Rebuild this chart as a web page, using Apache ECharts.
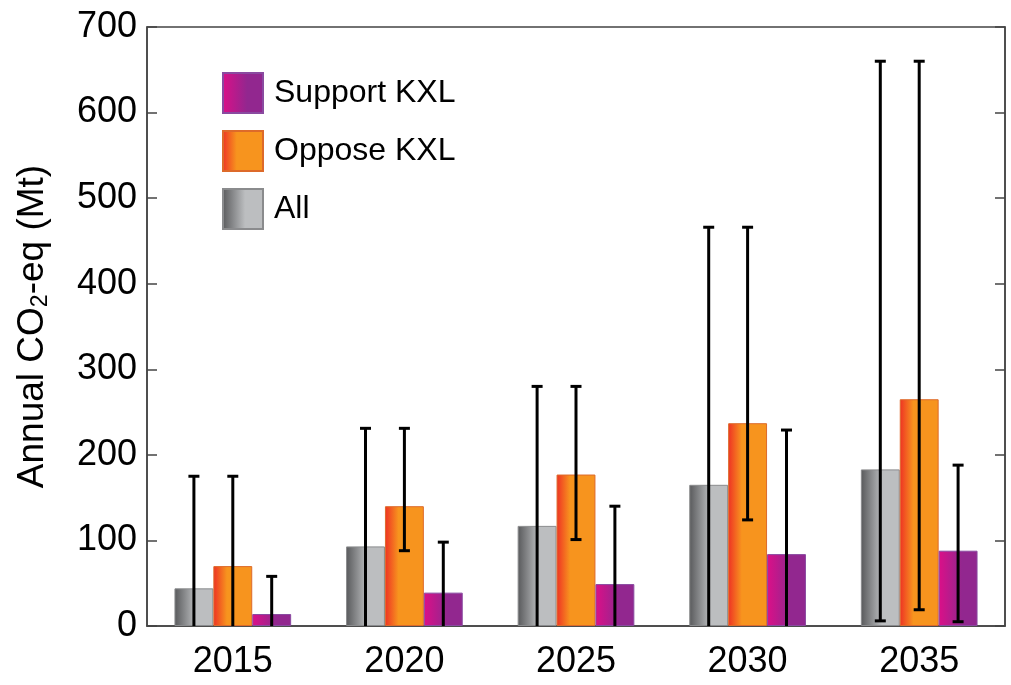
<!DOCTYPE html>
<html>
<head>
<meta charset="utf-8">
<script src="https://cdn.jsdelivr.net/npm/echarts@6/dist/echarts.min.js"></script>
<style>
  html, body { margin: 0; padding: 0; background: #fff; }
  #chart { width: 1011px; height: 685px; }
</style>
</head>
<body>
<div id="chart"></div>
<script>
var years = ['2015', '2020', '2025', '2030', '2035'];
var allVals = [44, 93, 117, 165, 183];
var opposeVals = [70, 140, 177, 237, 265];
var supportVals = [14, 39, 49, 84, 88];
// error bar ranges (low, high)
var allLow = [0, 0, 0, 0, 6];
var allHigh = [175, 231, 280, 466, 660];
var opposeLow = [0, 88, 101, 124, 19];
var opposeHigh = [175, 231, 280, 466, 660];
var supportLow = [0, 0, 0, 0, 5];
var supportHigh = [58, 98, 140, 229, 188];
var yTicks = { min: 0, max: 700, interval: 100 };

var FONT = '"Liberation Sans", Arial, Helvetica, sans-serif';
var GAP = 0.32;

function grad(stops) {
  return new echarts.graphic.LinearGradient(0, 0, 1, 0, stops);
}
var grayFill = grad([{ offset: 0, color: '#58595b' }, { offset: 0.55, color: '#bcbec0' }, { offset: 1, color: '#bcbec0' }]);
var orangeFill = grad([{ offset: 0, color: '#ee3124' }, { offset: 0.35, color: '#f7941e' }, { offset: 1, color: '#f7941e' }]);
var purpleFill = grad([{ offset: 0, color: '#dc0f88' }, { offset: 0.6, color: '#92278f' }, { offset: 1, color: '#92278f' }]);

function errData(low, high) {
  return years.map(function (y, i) { return [i, low[i], high[i]]; });
}

function errSeries(name, low, high, slot) {
  return {
    name: name,
    type: 'custom',
    z: 5,
    data: errData(low, high),
    encode: { x: 0, y: [1, 2] },
    renderItem: function (params, api) {
      var i = api.value(0);
      var lo = api.coord([i, api.value(1)]);
      var hi = api.coord([i, api.value(2)]);
      var band = api.size([1, 0])[0];
      var barW = band * (1 - GAP) / 3;
      var x = lo[0] + slot * barW;
      var cap = 5.5;
      var style = { stroke: '#000', lineWidth: 3 };
      var kids = [
        { type: 'line', shape: { x1: x, y1: lo[1], x2: x, y2: hi[1] }, style: style },
        { type: 'line', shape: { x1: x - cap, y1: hi[1], x2: x + cap, y2: hi[1] }, style: style }
      ];
      // no lower cap where the range runs down to the axis
      if (api.value(1) > 0) {
        kids.push({ type: 'line', shape: { x1: x - cap, y1: lo[1], x2: x + cap, y2: lo[1] }, style: style });
      }
      return { type: 'group', children: kids };
    }
  };
}

var chart = echarts.init(document.getElementById('chart'));
var option = {
  animation: false,
  textStyle: { fontFamily: FONT },
  grid: {
    left: 147, right: 6, top: 27, bottom: 59,
    show: true, borderColor: '#444', borderWidth: 1.5, backgroundColor: '#fff'
  },
  legend: {
    orient: 'vertical',
    left: 222, top: 72,
    padding: 0,
    icon: 'rect',
    itemWidth: 40, itemHeight: 40, itemGap: 16,
    data: ['Support KXL', 'Oppose KXL', 'All'],
    textStyle: { fontSize: 32, color: '#000', fontFamily: FONT, padding: [0, 0, 0, 6] },
    selectedMode: false
  },
  xAxis: {
    type: 'category',
    data: years,
    axisTick: { show: false },
    axisLine: { lineStyle: { color: '#444', width: 1.5 } },
    axisLabel: { fontSize: 36, color: '#000', margin: 18, fontFamily: FONT }
  },
  yAxis: [{
    type: 'value',
    min: yTicks.min, max: yTicks.max, interval: yTicks.interval,
    name: 'Annual CO{sub|2}-eq (Mt)',
    nameLocation: 'middle',
    nameGap: 95,
    nameTextStyle: {
      fontSize: 37, color: '#000', fontFamily: FONT,
      rich: { sub: { fontSize: 23, color: '#000', verticalAlign: 'bottom', padding: [15, 0, 0, 0], fontFamily: FONT } }
    },
    splitLine: { show: false },
    axisLine: { show: true, lineStyle: { color: '#444', width: 1.5 } },
    axisTick: { show: true, inside: true, length: 10, lineStyle: { color: '#444', width: 1.5 } },
    axisLabel: { fontSize: 36, color: '#000', margin: 10, fontFamily: FONT }
  }, {
    type: 'value',
    position: 'right',
    min: yTicks.min, max: yTicks.max, interval: yTicks.interval,
    splitLine: { show: false },
    axisLine: { show: true, lineStyle: { color: '#444', width: 1.5 } },
    axisTick: { show: true, inside: true, length: 10, lineStyle: { color: '#444', width: 1.5 } },
    axisLabel: { show: false }
  }],
  series: [
    {
      name: 'All', type: 'bar', data: allVals,
      barGap: '0%', barCategoryGap: (GAP * 100) + '%',
      itemStyle: { color: grayFill, borderColor: '#8a8b8d', borderWidth: 1 }
    },
    {
      name: 'Oppose KXL', type: 'bar', data: opposeVals,
      itemStyle: { color: orangeFill, borderColor: '#dd6a2a', borderWidth: 1 }
    },
    {
      name: 'Support KXL', type: 'bar', data: supportVals,
      itemStyle: { color: purpleFill, borderColor: '#8a4aa0', borderWidth: 1 }
    },
    errSeries('errAll', allLow, allHigh, -1),
    errSeries('errOppose', opposeLow, opposeHigh, 0),
    errSeries('errSupport', supportLow, supportHigh, 1)
  ]
};
chart.setOption(option);
</script>
</body>
</html>
